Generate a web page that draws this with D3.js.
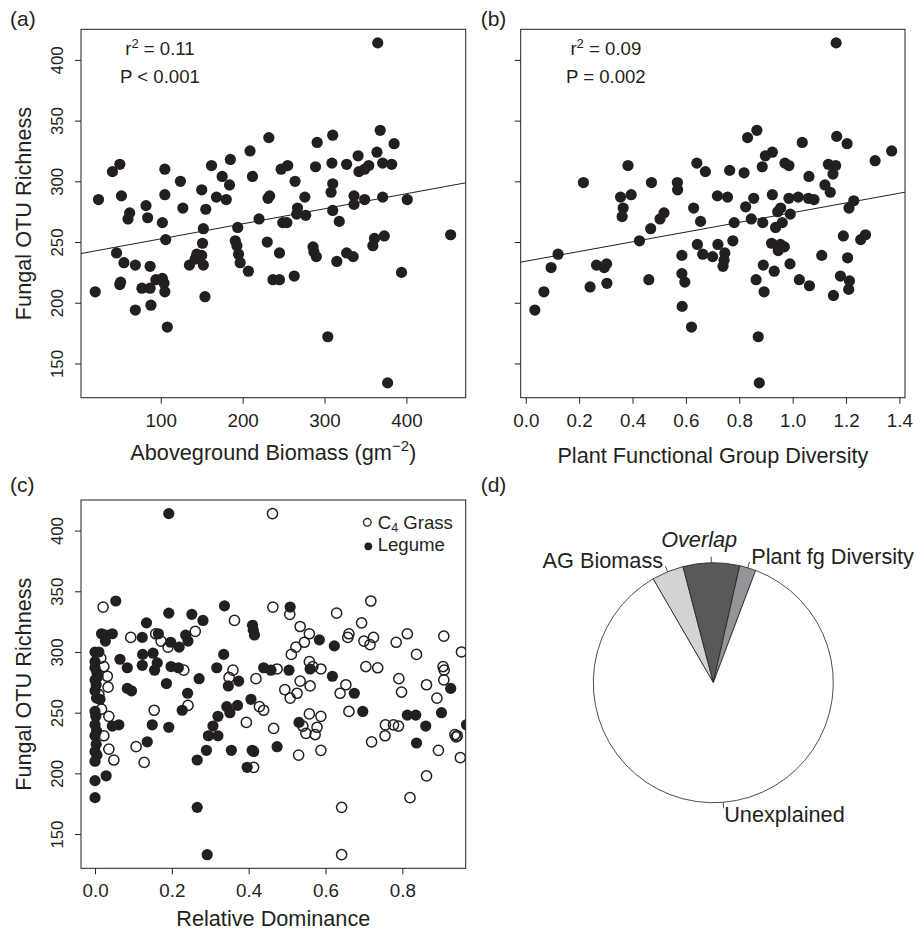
<!DOCTYPE html>
<html>
<head>
<meta charset="utf-8">
<script src="https://cdn.jsdelivr.net/npm/d3@7"></script>
<style>
  body { margin: 0; background: #fff; }
  svg text { font-family: "Liberation Sans", Arial, Helvetica, sans-serif; fill: #231f20; }
</style>
</head>
<body>
<svg id="fig" width="916" height="931"></svg>
<script>
// ---- data ----
// (a) aboveground biomass (g m-2) vs fungal OTU richness
var biomassPts = [[365,414],[368,342],[232,336],[310,338],[291,332],[385,331],[209,325],[364,324],[341,321],[185,318],
  [162,313],[50,314],[41,308],[105,310],[175,304],[247,310],[255,313],[289,312],[309,315],[327,314],[342,308],[349,310],
  [354,313],[371,315],[382,314],[212,304],[184,297],[264,300],[124,300],[310,298],[308,291],[105,289],[52,288],[24,285],
  [150,293],[168,287],[180,285],[233,288],[231,286],[276,287],[336,288],[349,285],[371,287],[401,285],[336,281],[82,280],
  [127,278],[155,277],[267,278],[310,276],[62,274],[60,269],[84,270],[102,266],[266,273],[277,272],[220,269],[249,266],
  [254,266],[318,267],[152,261],[194,262],[106,252],[151,249],[191,251],[193,247],[230,250],[454,256],[373,255],[361,253],
  [359,247],[286,246],[46,241],[287,242],[290,238],[245,241],[195,240],[197,233],[144,240],[150,239],[142,236],[135,231],
  [152,231],[55,233],[69,231],[87,230],[327,241],[335,238],[315,234],[207,226],[263,222],[237,219],[245,219],[394,225],
  [20,209],[50,215],[51,217],[77,212],[87,212],[94,219],[102,220],[104,216],[105,209],[69,194],[88,198],[154,205],
  [108,180],[304,172],[377,134]];
// (b) plant functional group diversity vs richness
var diversityPts = [[1.163,414],[0.866,342],[0.831,336],[1.165,337],[1.036,332],[1.204,331],[1.371,325],[1.309,317],
  [0.898,321],[0.924,324],[0.641,315],[0.673,308],[0.383,313],[0.764,309],[0.818,307],[0.886,312],[0.971,315],[0.986,313],
  [1.061,304],[1.134,314],[1.161,313],[1.151,306],[0.216,299],[0.471,299],[0.568,299],[0.569,293],[1.121,297],[1.141,291],
  [0.355,287],[0.395,289],[0.718,288],[0.756,287],[0.924,289],[0.986,286],[1.021,287],[1.059,286],[1.08,285],[0.854,286],
  [1.229,284],[1.211,278],[0.365,278],[0.361,271],[0.629,278],[0.824,279],[0.955,278],[0.944,275],[0.991,273],[0.518,274],
  [0.503,269],[0.655,267],[0.781,266],[0.845,269],[0.888,266],[0.961,266],[0.936,262],[0.468,261],[0.426,251],[0.776,251],
  [0.643,248],[0.72,248],[0.746,241],[0.663,240],[0.7,238],[0.921,249],[0.954,248],[0.969,246],[0.946,243],[1.19,255],
  [1.255,252],[1.273,256],[1.206,237],[1.109,239],[0.121,240],[0.095,229],[0.265,231],[0.303,232],[0.294,229],[0.585,239],
  [0.585,224],[0.596,217],[0.739,230],[0.743,235],[0.89,231],[0.931,226],[0.99,232],[0.863,219],[0.893,209],[1.025,219],
  [1.063,214],[1.179,222],[1.213,218],[1.21,211],[1.153,206],[0.241,213],[0.304,216],[0.461,219],[0.068,209],[0.034,194],
  [0.586,197],[0.621,180],[0.871,172],[0.875,134]];
// (c) relative dominance vs richness
var c4GrassPts = [[0.462,414],[0.021,337],[0.463,337],[0.718,342],[0.507,331],[0.629,332],[0.363,326],[0.694,324],
  [0.534,321],[0.558,315],[0.545,308],[0.523,304],[0.511,298],[0.661,315],[0.658,312],[0.7,309],[0.716,306],[0.725,312],
  [0.813,315],[0.784,308],[0.908,313],[0.837,298],[0.954,300],[0.093,312],[0.158,315],[0.172,309],[0.19,304],[0.261,317],
  [0.231,285],[0.359,285],[0.349,279],[0.419,278],[0.474,286],[0.558,292],[0.567,288],[0.588,286],[0.705,288],[0.736,287],
  [0.906,288],[0.909,285],[0.908,277],[0.791,278],[0.863,273],[0.798,267],[0.89,262],[0.534,276],[0.56,272],[0.494,269],
  [0.526,266],[0.508,262],[0.653,273],[0.638,266],[0.661,251],[0.154,252],[0.242,256],[0.428,255],[0.439,252],[0.394,242],
  [0.465,237],[0.558,249],[0.588,247],[0.578,238],[0.541,239],[0.549,233],[0.573,232],[0.72,226],[0.756,240],[0.755,231],
  [0.777,240],[0.79,239],[0.937,232],[0.943,231],[0.94,230],[0.951,213],[0.894,219],[0.588,219],[0.53,215],[0.413,205],
  [0.863,198],[0.82,180],[0.642,172],[0.642,133],[0.107,222],[0.128,209],[0.049,211],[0.036,220],[0.023,231],[0.036,247],
  [0.032,280],[0.023,288],[0.034,271],[0.01,265],[0.015,295],[0.017,253]];
var legumePts = [[0.192,414],[0.054,342],[0.508,337],[0.337,338],[0.192,332],[0.252,331],[0.281,326],[0.134,324],
  [0.41,322],[0.412,318],[0.415,314],[0.017,315],[0.028,314],[0.045,315],[0.027,309],[0.123,312],[0.165,315],[0.197,308],
  [0.219,304],[0.236,314],[0.242,309],[0.584,310],[0.623,305],[0,300],[0.335,298],[0.124,298],[0.151,299],[0.065,294],
  [0.084,287],[0.123,289],[0.162,291],[0.155,285],[0.198,288],[0.217,287],[0.317,287],[0.439,287],[0.458,285],[0.505,285],
  [0.56,286],[0.618,280],[0.271,278],[0.186,274],[0.084,270],[0.095,268],[0.241,266],[0.347,272],[0.374,276],[0.406,261],
  [0.675,266],[0.926,270],[0.227,252],[0.343,255],[0.371,256],[0.351,250],[0.32,247],[0.697,251],[0.813,248],[0.835,248],
  [0.902,250],[0.861,239],[0.967,240],[0.531,242],[0.045,239],[0.062,240],[0.149,240],[0.192,238],[0.307,239],[0.295,231],
  [0.32,231],[0.136,226],[0.837,225],[0.474,222],[0.355,219],[0.29,219],[0.413,218],[0.409,219],[0.266,211],[0.396,205],
  [0.029,198],[0,194],[0,180],[0.266,172],[0.292,133],
  [0,292],[0,287],[0.005,283],[0,277],[0.003,273],[0,268],[0.004,262],[0,251],[0.002,247],[0,240],[0.004,235],[0,231],
  [0.003,224],[0,218],[0.005,215],[0,210],[0.01,300],[0.008,280],[0.013,261]];
// fitted lines: richness = intercept + slope * x
var fitBiomass = [240.2, 0.124];
var fitDiversity = [234.2, 40.0];
// (d) variance partitioning (% of variance), clockwise from AG Biomass
var pieLabels = ["AG Biomass", "Overlap", "Plant fg Diversity", "Unexplained"];
var pieValues = [4.3, 7.6, 2.2, 85.9];
var pieColors = ["#d1d3d4", "#58595b", "#939598", "#ffffff"];
var yTickVals = [150, 200, 250, 300, 350, 400];
var biomassTicks = [100, 200, 300, 400];
var diversityTicks = [0, 0.2, 0.4, 0.6, 0.8, 1.0, 1.2, 1.4];
var dominanceTicks = [0, 0.2, 0.4, 0.6, 0.8];

var ink = "#231f20";
var svg = d3.select("#fig");
var defs = svg.append("defs");
var clipId = 0;

// build a boxed R-style panel with axes, return scales + clipped layer
function makePanel(box, xDomain, xTicks, xFmt, yLabels) {
    var x = d3.scaleLinear().domain(xDomain).range([box.left, box.right]);
    var y = d3.scaleLinear().domain([121.8, 425.2]).range([box.bottom, box.top]);
    clipId++;
    defs.append("clipPath").attr("id", "clip" + clipId)
        .append("rect").attr("x", box.left).attr("y", box.top)
        .attr("width", box.right - box.left).attr("height", box.bottom - box.top);

    var gx = svg.append("g").attr("transform", "translate(0," + box.bottom + ")")
        .call(d3.axisBottom(x).tickValues(xTicks).tickSize(6).tickPadding(9.5).tickFormat(xFmt));
    gx.select(".domain").remove();
    gx.selectAll("line").attr("stroke", ink);
    gx.selectAll("text").style("font-size", "18.8px").attr("fill", ink);

    var gy = svg.append("g").attr("transform", "translate(" + box.left + ",0)")
        .call(d3.axisLeft(y).tickValues(yTickVals).tickSize(6).tickFormat(yLabels ? d3.format("d") : ""));
    gy.select(".domain").remove();
    gy.selectAll("line").attr("stroke", ink);
    gy.selectAll("text")
        .attr("x", null).attr("dy", null)
        .attr("text-anchor", "middle")
        .attr("transform", "translate(-17.7,0) rotate(-90)")
        .style("font-size", "16.8px").attr("fill", ink);

    svg.append("rect").attr("x", box.left).attr("y", box.top)
        .attr("width", box.right - box.left).attr("height", box.bottom - box.top)
        .attr("fill", "none").attr("stroke", ink).attr("stroke-width", 1);

    var layer = svg.append("g").attr("clip-path", "url(#clip" + clipId + ")");
    return {x: x, y: y, layer: layer};
}

function yTitle(cy) {
    svg.append("text").attr("transform", "translate(31," + cy + ") rotate(-90)")
        .attr("text-anchor", "middle").style("font-size", "21.7px").text("Fungal OTU Richness");
}

function panelTag(x, y, s) {
    svg.append("text").attr("x", x).attr("y", y).style("font-size", "21px").text(s);
}

function statText(p, xv, lines) {
    // r^2 line with superscript
    var t = p.layer.append("text").attr("x", p.x(xv)).attr("y", p.y(409)).attr("dy", "0.35em")
        .attr("text-anchor", "middle").style("font-size", "18.6px");
    t.append("tspan").text("r");
    t.append("tspan").attr("dy", -7).style("font-size", "13px").text("2");
    t.append("tspan").attr("dy", 7).text(" = " + lines[0]);
    p.layer.append("text").attr("x", p.x(xv)).attr("y", p.y(386)).attr("dy", "0.35em")
        .attr("text-anchor", "middle").style("font-size", "18.6px").text(lines[1]);
}

function fitLine(p, fit) {
    var d = p.x.domain();
    p.layer.append("line")
        .attr("x1", p.x(d[0])).attr("y1", p.y(fit[0] + fit[1] * d[0]))
        .attr("x2", p.x(d[1])).attr("y2", p.y(fit[0] + fit[1] * d[1]))
        .attr("stroke", ink).attr("stroke-width", 1);
}

// ---- (a) ----
var pa = makePanel({left: 81, top: 29.3, right: 465.7, bottom: 397.7}, [2.6, 472.4], biomassTicks, d3.format("d"), true);
pa.layer.selectAll("circle.pt").data(biomassPts).enter().append("circle")
    .attr("cx", function(d) { return pa.x(d[0]); })
    .attr("cy", function(d) { return pa.y(d[1]); })
    .attr("r", 5.6).attr("fill", ink);
fitLine(pa, fitBiomass);
statText(pa, 99, ["0.11", "P < 0.001"]);
yTitle(213.5);
var ta = svg.append("text").attr("x", 273.3).attr("y", 460).attr("text-anchor", "middle").style("font-size", "21.7px");
ta.append("tspan").text("Aboveground Biomass (gm");
ta.append("tspan").attr("dy", -9).style("font-size", "15px").text("\u22122");
ta.append("tspan").attr("dy", 9).text(")");
panelTag(10, 25.5, "(a)");

// ---- (b) ----
var pb = makePanel({left: 520.7, top: 29.3, right: 905, bottom: 397.7}, [-0.019, 1.421], diversityTicks, d3.format(".1f"), false);
pb.layer.selectAll("circle.pt").data(diversityPts).enter().append("circle")
    .attr("cx", function(d) { return pb.x(d[0]); })
    .attr("cy", function(d) { return pb.y(d[1]); })
    .attr("r", 5.6).attr("fill", ink);
fitLine(pb, fitDiversity);
statText(pb, 0.30, ["0.09", "P = 0.002"]);
svg.append("text").attr("x", 712.9).attr("y", 463.3).attr("text-anchor", "middle")
    .style("font-size", "21.7px").text("Plant Functional Group Diversity");
panelTag(480.7, 25.5, "(b)");

// ---- (c) ----
var pc = makePanel({left: 81, top: 500, right: 465.7, bottom: 868.3}, [-0.0365, 0.965], dominanceTicks, d3.format(".1f"), true);
pc.layer.selectAll("circle.grass").data(c4GrassPts).enter().append("circle")
    .attr("cx", function(d) { return pc.x(d[0]); })
    .attr("cy", function(d) { return pc.y(d[1]); })
    .attr("r", 5.1).attr("fill", "none").attr("stroke", ink).attr("stroke-width", 1.5);
pc.layer.selectAll("circle.legume").data(legumePts).enter().append("circle")
    .attr("cx", function(d) { return pc.x(d[0]); })
    .attr("cy", function(d) { return pc.y(d[1]); })
    .attr("r", 5.6).attr("fill", ink);
yTitle(684.2);
svg.append("text").attr("x", 273.3).attr("y", 925.7).attr("text-anchor", "middle")
    .style("font-size", "21.7px").text("Relative Dominance");
panelTag(10, 491.7, "(c)");
// legend
var leg = svg.append("g");
leg.append("circle").attr("cx", 367.3).attr("cy", 522.3).attr("r", 3.8)
    .attr("fill", "none").attr("stroke", ink).attr("stroke-width", 1.3);
leg.append("circle").attr("cx", 368.3).attr("cy", 546.3).attr("r", 3.9).attr("fill", ink);
var lt = leg.append("text").attr("x", 377.7).attr("y", 529).style("font-size", "18.6px");
lt.append("tspan").text("C");
lt.append("tspan").attr("dy", 2.5).style("font-size", "12.5px").text("4");
lt.append("tspan").attr("dy", -2.5).text(" Grass");
leg.append("text").attr("x", 377.7).attr("y", 551).style("font-size", "18.6px").text("Legume");

// ---- (d) pie ----
panelTag(480.7, 491.7, "(d)");
var cx = 713.3, cy = 682.7, R = 120;
var a0 = -30.1 * Math.PI / 180;
var pie = d3.pie().sort(null).value(function(d) { return d; })
    .startAngle(a0).endAngle(a0 + 2 * Math.PI);
var arcs = pie(pieValues);
var arc = d3.arc().innerRadius(0).outerRadius(R);
var gp = svg.append("g").attr("transform", "translate(" + cx + "," + cy + ")");
gp.selectAll("path").data(arcs).enter().append("path")
    .attr("d", arc)
    .attr("fill", function(d, i) { return pieColors[i]; })
    .attr("stroke", ink).attr("stroke-width", 0.8).attr("stroke-linejoin", "round");
arcs.forEach(function(d, i) {
    var m = (d.startAngle + d.endAngle) / 2;
    var sx = Math.sin(m), sy = -Math.cos(m);
    gp.append("line")
        .attr("x1", R * sx).attr("y1", R * sy)
        .attr("x2", 1.05 * R * sx).attr("y2", 1.05 * R * sy)
        .attr("stroke", ink).attr("stroke-width", 0.8);
    var t = gp.append("text").style("font-size", "21.7px").text(pieLabels[i]);
    if (pieLabels[i] === "Overlap") {
        t.attr("x", 1.1 * R * sx - 12).attr("y", 1.1 * R * sy - 4)
            .attr("text-anchor", "middle").style("font-style", "italic");
    } else {
        t.attr("x", 1.1 * R * sx).attr("y", 1.1 * R * sy).attr("dy", "0.35em")
            .attr("text-anchor", sx < 0 ? "end" : "start");
    }
});
</script>
</body>
</html>
